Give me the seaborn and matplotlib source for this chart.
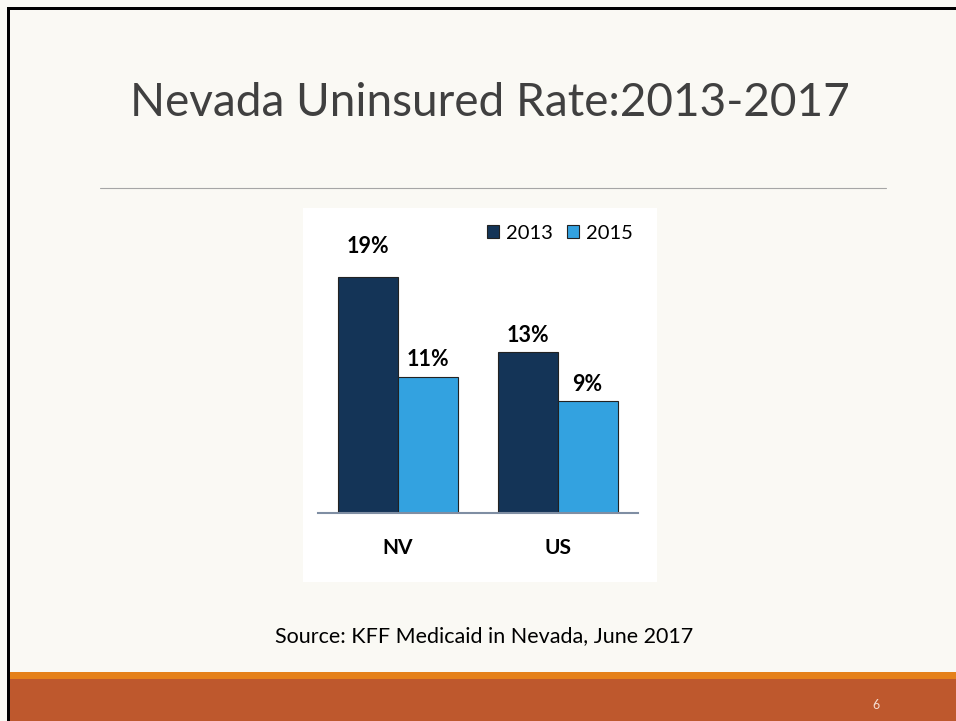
import pandas as pd
import seaborn as sns
import matplotlib.pyplot as plt
from matplotlib.patches import Rectangle
from matplotlib.lines import Line2D

# Données du graphique
regions = ["NV", "US"]
years = ["2013", "2015"]
rate_2013 = [19, 13]
rate_2015 = [11, 9]
label_pad = {"2013": [15, 4.5], "2015": [4.5, 4.5]}

df = pd.DataFrame({
    "region": regions * 2,
    "year": [years[0]] * 2 + [years[1]] * 2,
    "rate": rate_2013 + rate_2015,
})

sns.set_style("white")
plt.rcParams["font.family"] = ["Lato", "DejaVu Sans"]
plt.rcParams["text.color"] = "black"

W, H = 956, 721
fig = plt.figure(figsize=(W / 100, H / 100), dpi=100)
fig.patch.set_facecolor("#FAF9F4")

def px_rect(x0, y0, x1, y1, color, z=0):
    fig.add_artist(Rectangle((x0 / W, 1 - y1 / H), (x1 - x0) / W, (y1 - y0) / H,
                             transform=fig.transFigure, facecolor=color,
                             edgecolor="none", zorder=z))

# bandes du bas
px_rect(10, 672, W, 679, "#E5811A")
px_rect(10, 679, W, H, "#BE582D")
# bordure noire
px_rect(7, 7, W, 10, "black", z=5)
px_rect(7, 7, 10, H, "black", z=5)
# panneau blanc du graphique
px_rect(303, 208, 657, 582, "white")

# titre, ligne, source, numéro de page
fig.text(490 / W, 1 - 103 / H, "Nevada Uninsured Rate:2013-2017", ha="center", va="center",
         fontsize=33, color="#404040", fontweight="normal")
fig.add_artist(Line2D([100 / W, 886 / W], [1 - 188 / H] * 2, transform=fig.transFigure,
                      color="#A6A6A6", lw=0.8))
fig.text(484 / W, 1 - 636 / H, "Source: KFF Medicaid in Nevada, June 2017", ha="center",
         va="center", fontsize=15.5, color="black")
fig.text(876 / W, 1 - 705 / H, "6", ha="center", va="center", fontsize=9, color="#F5DED2")

# axes du graphique
ax = fig.add_axes([317.5 / W, (H - 513) / H, 320 / W, 297.6 / H])
ax.set_facecolor("none")
sns.barplot(data=df, x="region", y="rate", hue="year", palette=["#143457", "#33A2E0"],
            width=0.75, saturation=1, errorbar=None, edgecolor="#222222", linewidth=0.8, ax=ax)
ax.set_xlim(-0.5, 1.5)
ax.set_ylim(0, 24)
ax.set_xlabel("")
ax.set_ylabel("")
ax.set_yticks([])
ax.tick_params(axis="x", length=0, pad=18, labelcolor="black")
for lbl in ax.get_xticklabels():
    lbl.set_fontweight("bold")
    lbl.set_fontsize(15)
for s in ["top", "right", "left"]:
    ax.spines[s].set_visible(False)
ax.spines["bottom"].set_color("#7F8EA3")
ax.spines["bottom"].set_linewidth(1.5)

for cont, yr in zip(ax.containers, years):
    for bar, v, pad in zip(cont.patches, cont.datavalues, label_pad[yr]):
        ax.annotate(f"{v:.0f}%", (bar.get_x() + bar.get_width() / 2, bar.get_height()),
                    xytext=(0, pad), textcoords="offset points", ha="center", va="bottom",
                    fontsize=15.5, fontweight="bold", color="black")

ax.legend(loc="upper right", bbox_to_anchor=(0.986, 0.968), ncol=2, frameon=False,
          fontsize=14.5, handlelength=0.6, handleheight=0.6, handletextpad=0.35,
          columnspacing=0.7, borderaxespad=0, borderpad=0)

fig.savefig("out.png", dpi=100, facecolor=fig.get_facecolor())
